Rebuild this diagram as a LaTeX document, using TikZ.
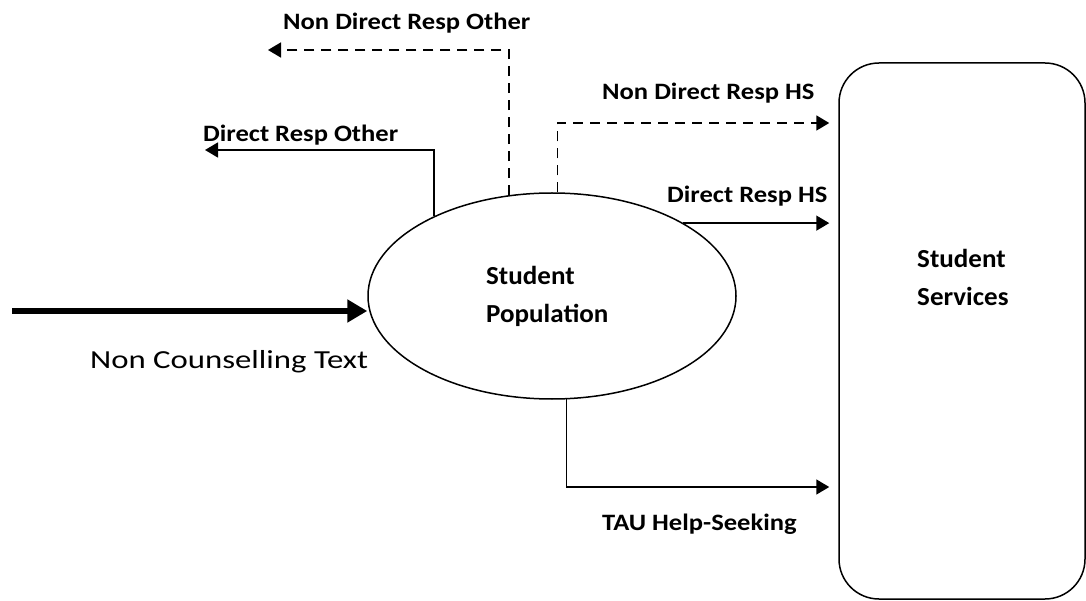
\documentclass[tikz,border=0pt]{standalone}
\usepackage{fontspec}
\setmainfont{Carlito}
\newfontfamily\widefont{Carlito}[FakeStretch=1.13]
\newfontfamily\mainwide{Carlito}[FakeStretch=1.04]
\newfontfamily\streamfont{Carlito}[FakeStretch=1.26]
\usetikzlibrary{arrows.meta,shapes.geometric,calc}
\begin{document}
\begin{tikzpicture}[x=1pt,y=-1pt,
  lbl/.style={font=\widefont\bfseries\fontsize{23.5}{28}\selectfont, inner sep=0pt, anchor=base west},
  nodetext/.style={font=\mainwide\bfseries\fontsize{26}{38}\selectfont, align=left, inner sep=0pt},
  flow/.style={line width=1.5pt, -{Triangle[length=13pt,width=15pt]}},
  dflow/.style={flow, line width=1.8pt, dash pattern=on 10pt off 7pt},
  bigflow/.style={line width=5.5pt, -{Triangle[length=20pt,width=22pt]}},
  gap/.style={shorten >=9pt}]
\useasboundingbox (0,0) rectangle (1086,601);

% the population and the services it reaches
\node[ellipse, draw, line width=1.5pt, minimum width=368pt, minimum height=206pt,
      inner sep=0pt] (pop) at (552,296) {};
\node[nodetext, anchor=base west] (poptext) at (486,323) {Student\\Population};
\node[draw, line width=1.5pt, rounded corners=40pt, minimum width=246pt,
      minimum height=536pt, inner sep=0pt] (svc) at (962,331) {};
\node[nodetext, anchor=base west] (svctext) at (917,306) {Student\\Services};

% incoming text stream
\coordinate (src) at (12,311);
\draw[bigflow] (src) -- (src -| pop.west);
\node[font=\streamfont\fontsize{26}{30}\selectfont, inner sep=0pt, anchor=base west] (srclbl) at (90,368) {Non Counselling Text};

% responses leaving towards other destinations
\coordinate (dro) at (205,150);
\draw[flow] (pop.146.6) |- (dro);
\node[lbl] (drolbl) at (203,142) {Direct Resp Other};

\coordinate (ndro) at (268,50);
\draw[dflow] (pop.113.7) |- (ndro);
\node[lbl] (ndrolbl) at (283,30) {Non Direct Resp Other};

% responses reaching student services
\draw[dflow, gap] (pop.87.8) |- (svc.west |- 0,123);
\node[lbl] (ndrhslbl) at (602,100) {Non Direct Resp HS};

\draw[flow, gap] (pop.29.3) -- (pop.29.3 -| svc.west);
\node[lbl] (drhslbl) at (667,203) {Direct Resp HS};

\draw[flow, gap] (pop.278.3) |- (svc.west |- 0,487);
\node[lbl] (taulbl) at (602,530) {TAU Help-Seeking};
\end{tikzpicture}
\end{document}
